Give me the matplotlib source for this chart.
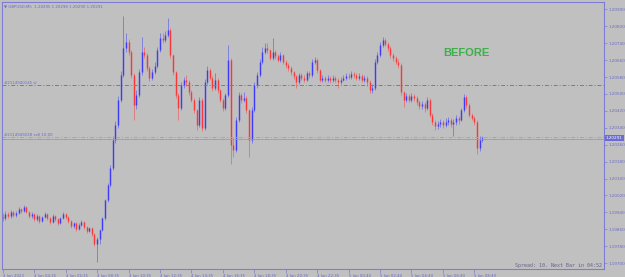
import numpy as np
import matplotlib
matplotlib.use('Agg')
import matplotlib.pyplot as plt

# GBPUSD M5 candles, grouped to 10-minute bars
first_open = 1.19920
closes = [
    1.19913, 1.19932, 1.19922, 1.19941, 1.19927, 1.19937, 1.19955, 1.19946, 1.19965, 1.19941, 1.19922, 1.19932,
    1.19908, 1.19922, 1.19899, 1.19918, 1.19932, 1.19913, 1.19894, 1.19922, 1.19908, 1.19889, 1.19913, 1.19932,
    1.19918, 1.19899, 1.19875, 1.19889, 1.19861, 1.19880, 1.19894, 1.19870, 1.19851, 1.19866, 1.19837, 1.19790,
    1.19815, 1.19856, 1.19913, 1.19998, 1.20069, 1.20149, 1.20282, 1.20353, 1.20471, 1.20589, 1.20717, 1.20745,
    1.20698, 1.20589, 1.20447, 1.20495, 1.20603, 1.20698, 1.20684, 1.20622, 1.20575, 1.20603, 1.20632, 1.20707,
    1.20764, 1.20755, 1.20778, 1.20802, 1.20684, 1.20603, 1.20495, 1.20433, 1.20542, 1.20566, 1.20556, 1.20509,
    1.20471, 1.20424, 1.20353, 1.20471, 1.20339, 1.20556, 1.20613, 1.20575, 1.20528, 1.20566, 1.20518, 1.20471,
    1.20433, 1.20495, 1.20660, 1.20258, 1.20234, 1.20376, 1.20495, 1.20471, 1.20481, 1.20424, 1.20282, 1.20424,
    1.20542, 1.20589, 1.20651, 1.20698, 1.20717, 1.20707, 1.20670, 1.20698, 1.20679, 1.20660, 1.20684, 1.20651,
    1.20637, 1.20622, 1.20603, 1.20585, 1.20556, 1.20589, 1.20575, 1.20566, 1.20599, 1.20589, 1.20651, 1.20660,
    1.20613, 1.20566, 1.20575, 1.20566, 1.20575, 1.20566, 1.20575, 1.20566, 1.20556, 1.20566, 1.20575, 1.20585,
    1.20580, 1.20594, 1.20589, 1.20575, 1.20585, 1.20566, 1.20575, 1.20556, 1.20518, 1.20528, 1.20651, 1.20684,
    1.20731, 1.20755, 1.20736, 1.20717, 1.20684, 1.20670, 1.20651, 1.20637, 1.20509, 1.20471, 1.20490, 1.20471,
    1.20490, 1.20481, 1.20462, 1.20443, 1.20452, 1.20433, 1.20471, 1.20400, 1.20367, 1.20348, 1.20357, 1.20367,
    1.20353, 1.20367, 1.20376, 1.20357, 1.20367, 1.20386, 1.20376, 1.20424, 1.20485, 1.20447, 1.20400, 1.20386,
    1.20367, 1.20244, 1.20282, 1.20291,
]
highs = [
    1.19935, 1.19945, 1.19940, 1.19952, 1.19948, 1.19946, 1.19965, 1.19962, 1.19975, 1.19970, 1.19945, 1.19940,
    1.19938, 1.19930, 1.19928, 1.19925, 1.19942, 1.19938, 1.19918, 1.19930, 1.19928, 1.19912, 1.19920, 1.19940,
    1.19938, 1.19922, 1.19904, 1.19895, 1.19893, 1.19888, 1.19902, 1.19898, 1.19875, 1.19872, 1.19870, 1.19842,
    1.19825, 1.19862, 1.19920, 1.20005, 1.20080, 1.20165, 1.20300, 1.20370, 1.20490, 1.20610, 1.20870, 1.20790,
    1.20760, 1.20710, 1.20600, 1.20520, 1.20620, 1.20770, 1.20720, 1.20695, 1.20630, 1.20620, 1.20650, 1.20720,
    1.20790, 1.20790, 1.20800, 1.20860, 1.20810, 1.20690, 1.20610, 1.20505, 1.20555, 1.20580, 1.20590, 1.20565,
    1.20520, 1.20480, 1.20430, 1.20485, 1.20480, 1.20570, 1.20630, 1.20625, 1.20585, 1.20600, 1.20575, 1.20525,
    1.20480, 1.20505, 1.20730, 1.20670, 1.20290, 1.20390, 1.20510, 1.20505, 1.20510, 1.20490, 1.20430, 1.20440,
    1.20555, 1.20605, 1.20665, 1.20720, 1.20740, 1.20740, 1.20715, 1.20765, 1.20710, 1.20690, 1.20700, 1.20690,
    1.20660, 1.20645, 1.20630, 1.20610, 1.20590, 1.20600, 1.20600, 1.20590, 1.20610, 1.20610, 1.20665, 1.20675,
    1.20670, 1.20620, 1.20590, 1.20585, 1.20590, 1.20585, 1.20590, 1.20585, 1.20575, 1.20580, 1.20590, 1.20600,
    1.20600, 1.20610, 1.20605, 1.20600, 1.20600, 1.20595, 1.20590, 1.20585, 1.20565, 1.20545, 1.20665, 1.20700,
    1.20745, 1.20770, 1.20765, 1.20745, 1.20725, 1.20695, 1.20680, 1.20665, 1.20645, 1.20515, 1.20505, 1.20500,
    1.20505, 1.20500, 1.20490, 1.20470, 1.20465, 1.20460, 1.20485, 1.20480, 1.20410, 1.20375, 1.20370, 1.20380,
    1.20375, 1.20385, 1.20390, 1.20385, 1.20380, 1.20400, 1.20395, 1.20435, 1.20500, 1.20495, 1.20455, 1.20410,
    1.20395, 1.20375, 1.20300, 1.20300,
]
lows = [
    1.19900, 1.19905, 1.19912, 1.19915, 1.19920, 1.19920, 1.19930, 1.19938, 1.19940, 1.19935, 1.19915, 1.19915,
    1.19900, 1.19900, 1.19890, 1.19892, 1.19912, 1.19905, 1.19885, 1.19888, 1.19900, 1.19880, 1.19884, 1.19908,
    1.19910, 1.19890, 1.19866, 1.19868, 1.19852, 1.19855, 1.19875, 1.19862, 1.19842, 1.19845, 1.19828, 1.19780,
    1.19705, 1.19790, 1.19850, 1.19905, 1.19990, 1.20060, 1.20140, 1.20270, 1.20340, 1.20460, 1.20580, 1.20700,
    1.20685, 1.20575, 1.20376, 1.20430, 1.20485, 1.20590, 1.20670, 1.20610, 1.20560, 1.20565, 1.20595, 1.20625,
    1.20700, 1.20740, 1.20745, 1.20770, 1.20670, 1.20590, 1.20480, 1.20376, 1.20425, 1.20530, 1.20540, 1.20495,
    1.20460, 1.20410, 1.20329, 1.20345, 1.20325, 1.20330, 1.20545, 1.20565, 1.20515, 1.20520, 1.20505, 1.20460,
    1.20420, 1.20425, 1.20485, 1.20170, 1.20200, 1.20225, 1.20365, 1.20455, 1.20460, 1.20410, 1.20200, 1.20270,
    1.20415, 1.20530, 1.20580, 1.20640, 1.20690, 1.20695, 1.20660, 1.20660, 1.20665, 1.20650, 1.20650, 1.20640,
    1.20625, 1.20610, 1.20590, 1.20570, 1.20530, 1.20545, 1.20565, 1.20555, 1.20560, 1.20575, 1.20580, 1.20640,
    1.20600, 1.20555, 1.20555, 1.20555, 1.20555, 1.20550, 1.20555, 1.20555, 1.20530, 1.20545, 1.20560, 1.20565,
    1.20570, 1.20570, 1.20575, 1.20565, 1.20565, 1.20555, 1.20555, 1.20540, 1.20505, 1.20505, 1.20520, 1.20640,
    1.20675, 1.20720, 1.20725, 1.20705, 1.20670, 1.20655, 1.20640, 1.20625, 1.20495, 1.20440, 1.20460, 1.20460,
    1.20460, 1.20465, 1.20450, 1.20430, 1.20430, 1.20415, 1.20425, 1.20390, 1.20355, 1.20330, 1.20335, 1.20345,
    1.20340, 1.20345, 1.20355, 1.20345, 1.20300, 1.20355, 1.20360, 1.20370, 1.20415, 1.20435, 1.20390, 1.20375,
    1.20355, 1.20215, 1.20230, 1.20275,
]

tick_pos = [0, 12, 24, 36, 48, 60, 72, 84, 96, 108, 120, 132, 144, 156, 168, 180]
tick_labels = ['4 Jan 2023', '4 Jan 04:35', '4 Jan 06:35', '4 Jan 08:35', '4 Jan 10:35',
               '4 Jan 12:35', '4 Jan 14:35', '4 Jan 16:35', '4 Jan 18:35', '4 Jan 20:35',
               '4 Jan 22:35', '5 Jan 00:40', '5 Jan 02:40', '5 Jan 04:40', '5 Jan 06:40',
               '5 Jan 08:40']
price_ticks = [1.19700, 1.19780, 1.19860, 1.19940, 1.20020, 1.20100, 1.20180, 1.20260,
               1.20340, 1.20420, 1.20500, 1.20580, 1.20660, 1.20740, 1.20820, 1.20900]

sl_level = 1.20542
sell_levels = [1.20297, 1.20288]
bid_level = 1.20285

W, H = 625, 277
bg = '#c0c0c0'
frame = '#7d7dd8'
txt = '#6a6ac8'

closes = np.array(closes)
highs = np.array(highs)
lows = np.array(lows)
opens = np.r_[first_open, closes[:-1]]
x = np.arange(len(closes))
up = closes >= opens

fig = plt.figure(figsize=(W / 100, H / 100), dpi=100)
fig.patch.set_facecolor(bg)
ax = fig.add_axes([2 / W, 8 / H, 602 / W, 267 / H])
ax.set_facecolor(bg)

for colour, mask in (('#2f2fff', up), ('#ff2a2a', ~up)):
    ax.vlines(x[mask], lows[mask], highs[mask], color=colour, lw=0.55, alpha=0.55)
    ax.vlines(x[mask], np.minimum(opens, closes)[mask], np.maximum(opens, closes)[mask],
              color=colour, lw=1.05, alpha=0.85)

# order lines
ax.axhline(sl_level, color='#dc5454', lw=0.7, dashes=(4, 2, 1, 2))
for lvl in sell_levels:
    ax.axhline(lvl, color='#5fd65f', lw=0.7, dashes=(4, 2, 1, 2))
ax.axhline(bid_level, color='#9a9a9a', lw=0.5)
ax.text(0.5, sl_level + 0.00008, '#2114940145 sl', fontsize=2.8, color=txt, va='center')
ax.text(0.5, sell_levels[0] + 0.00008, '#2114949228 sell 10.00', fontsize=2.8, color=txt, va='center')

ax.set_xlim(-0.3, 229.5)
ax.set_ylim(1.19672, 1.20935)

ax.yaxis.tick_right()
ax.set_yticks(price_ticks)
ax.set_yticklabels([f'{p:.5f}' for p in price_ticks])
ax.tick_params(axis='y', direction='out', length=2, width=0.5, pad=1.5, labelsize=3,
               colors=frame, labelcolor=txt)
ax.set_xticks(tick_pos)
ax.set_xticklabels(tick_labels)
ax.tick_params(axis='x', direction='out', length=3, width=0.5, pad=0.8, labelsize=2.8,
               colors=frame, labelcolor=txt)
for lab in ax.get_xticklabels():
    lab.set_ha('left')
for s in ax.spines.values():
    s.set_color(frame)
    s.set_linewidth(0.8)

# current price box on the scale
ax.text(1.003, closes[-1], f'{closes[-1]:.5f}', transform=ax.get_yaxis_transform(),
        fontsize=3, color='white', va='center', ha='left',
        bbox=dict(boxstyle='square,pad=0.25', fc='#6b6bd6', ec='none'))

fig.text(4 / W, 1 - 6 / H, '\u25bc GBPUSD,M5  1.20295 1.20298 1.20290 1.20291',
         fontsize=2.8, color=txt, va='center', ha='left')
fig.text(466 / W, 1 - 52.5 / H, 'BEFORE', fontsize=8, fontweight='bold',
         family='Liberation Sans', color='#3dae4a', ha='center', va='center')
fig.text(602 / W, 1 - 266 / H, 'Spread: 10. Next Bar in 04:52', fontsize=3.6,
         family='DejaVu Sans Mono', color='#62628a', ha='right', va='center')

fig.savefig('out.png', dpi=100, facecolor=fig.get_facecolor())
